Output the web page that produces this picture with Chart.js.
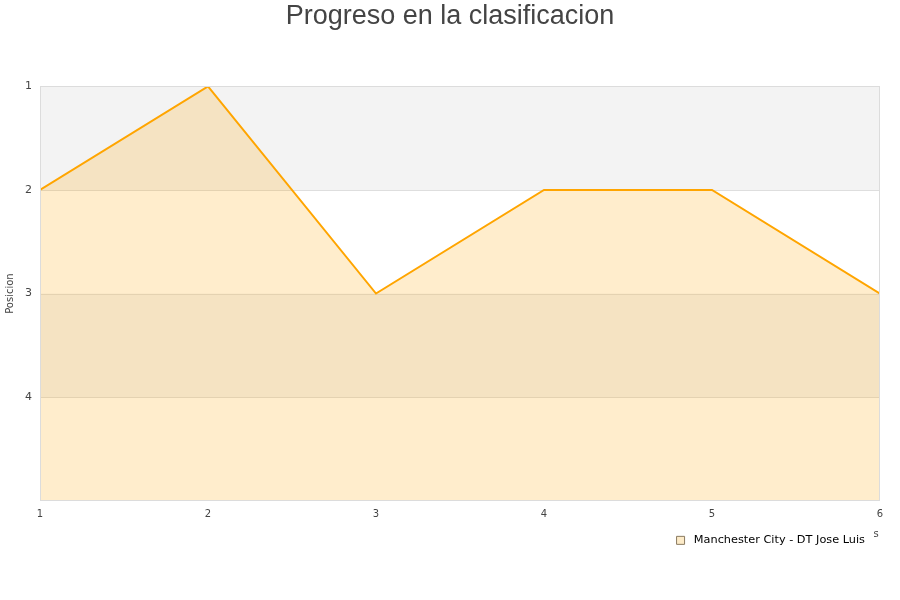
<!DOCTYPE html>
<html>
<head>
<meta charset="utf-8">
<script src="https://cdn.jsdelivr.net/npm/chart.js@4.4.1/dist/chart.umd.min.js"></script>
<style>
  body { margin: 0; background: #fff; }
</style>
</head>
<body>
<canvas id="Grafico" width="900" height="600"></canvas>
<script>
// datos del grafico
var jornadas = [1, 2, 3, 4, 5, 6];
var posiciones = [2, 1, 3, 2, 2, 3];
var etiquetaEquipo = "Manchester City - DT Jose Luis";
var tickPosiciones = [1, 2, 3, 4];

// bandas alternas y borde del area
var bandas = {
  id: 'bandas',
  afterLayout: function (chart) {
    // titulo centrado en todo el canvas
    var t = chart.titleBlock;
    if (t) { t.left = 0; t.right = chart.width; t.width = chart.width; }
  },
  beforeDatasetsDraw: function (chart) {
    var ctx = chart.ctx, a = chart.chartArea, y = chart.scales.y;
    ctx.save();
    ctx.fillStyle = '#f3f3f3';
    [1, 3].forEach(function (v) {
      var t = y.getPixelForValue(v), b = y.getPixelForValue(v + 1);
      ctx.fillRect(a.left, t, a.right - a.left, b - t);
    });
    ctx.strokeStyle = '#dedede';
    ctx.lineWidth = 1;
    tickPosiciones.forEach(function (v) {
      var p = Math.round(y.getPixelForValue(v)) + 0.5;
      ctx.beginPath(); ctx.moveTo(a.left, p); ctx.lineTo(a.right, p); ctx.stroke();
    });
    ctx.restore();
  },
  afterDraw: function (chart) {
    var ctx = chart.ctx, a = chart.chartArea;
    ctx.save();
    ctx.strokeStyle = '#dcdcdc';
    ctx.lineWidth = 1;
    ctx.strokeRect(Math.round(a.left) + 0.5, Math.round(a.top) + 0.5,
      Math.round(a.right - a.left) - 1, Math.round(a.bottom - a.top));
    ctx.fillStyle = '#444';
    ctx.font = '10px "DejaVu Sans"';
    ctx.textAlign = 'center';
    ctx.fillText('s', a.right - 4, a.bottom + 34);
    ctx.restore();
  }
};

var canva = document.getElementById("Grafico").getContext("2d");
var chart = new Chart(canva, {
  type: "line",
  data: {
    datasets: [{
      label: etiquetaEquipo,
      data: jornadas.map(function (j, i) { return { x: j, y: posiciones[i] }; }),
      borderColor: "#ffa500",
      backgroundColor: "rgba(255,165,0,0.2)",
      borderWidth: 2,
      pointRadius: 0,
      tension: 0,
      fill: 'start'
    }]
  },
  plugins: [bandas],
  options: {
    responsive: false,
    animation: false,
    layout: { padding: { left: 0, right: 20, top: 0, bottom: 44 } },
    plugins: {
      title: {
        display: true,
        text: "Progreso en la clasificacion",
        color: "#444",
        font: { family: "Arial, 'Liberation Sans', sans-serif", size: 27, weight: "normal" },
        padding: { top: 0, bottom: 54 }
      },
      legend: {
        position: "bottom",
        align: "end",
        labels: {
          boxWidth: 8,
          boxHeight: 8,
          color: "#111",
          font: { family: "DejaVu Sans", size: 11.3 },
          padding: 15,
          generateLabels: function (c) {
            return [{
              text: " " + etiquetaEquipo,
              fillStyle: "#fdebc8",
              strokeStyle: "#8a7a60",
              lineWidth: 1,
              datasetIndex: 0
            }];
          }
        }
      },
      tooltip: { enabled: false }
    },
    scales: {
      x: {
        type: "linear",
        min: 1,
        max: 6,
        afterFit: function (s) { s.height = 19; },
        ticks: {
          stepSize: 1,
          color: "#444",
          font: { family: "DejaVu Sans", size: 10 },
          padding: 8
        },
        grid: { display: false, drawTicks: false },
        border: { display: false }
      },
      y: {
        reverse: true,
        min: 1,
        max: 5,
        afterFit: function (s) { s.width = 40; },
        afterBuildTicks: function (s) {
          s.ticks = tickPosiciones.map(function (v) { return { value: v }; });
        },
        ticks: {
          color: "#444",
          font: { family: "DejaVu Sans", size: 11 },
          padding: 8
        },
        title: {
          display: true,
          text: "Posicion",
          color: "#444",
          font: { family: "DejaVu Sans", size: 10 },
          padding: { top: 4, bottom: 0 }
        },
        grid: { display: false, drawTicks: false },
        border: { display: false }
      }
    }
  }
});
</script>
</body>
</html>
